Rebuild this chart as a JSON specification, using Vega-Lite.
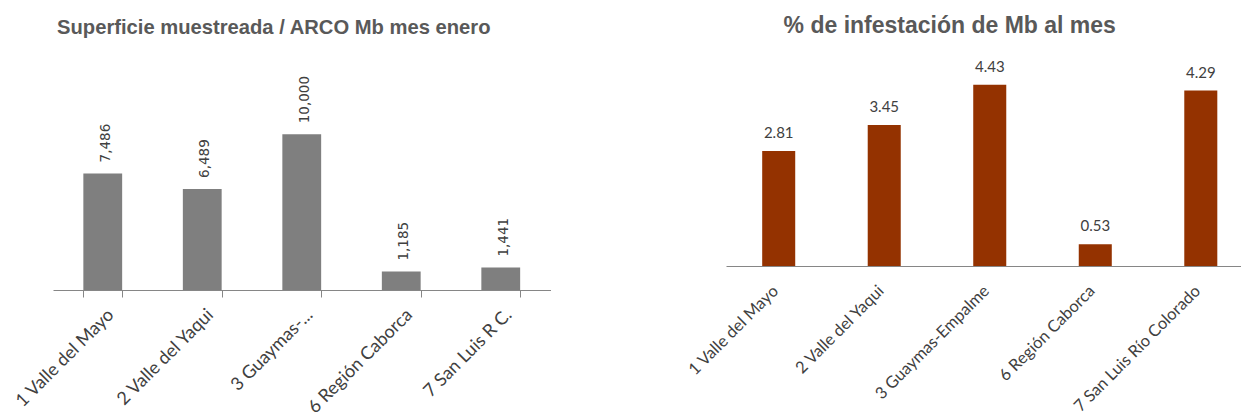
{
  "$schema": "https://vega.github.io/schema/vega-lite/v6.json",
  "background": "white",
  "autosize": {"type": "pad"},
  "padding": {"left": 12, "top": 15, "right": 0, "bottom": 0},
  "bounds": "flush",
  "spacing": 175,
  "config": {"view": {"stroke": null}, "font": "Lato"},
  "hconcat": [
    {
      "width": 497.5,
      "height": 239,
      "title": {"text": "Superficie muestreada / ARCO Mb mes enero", "font": "Liberation Sans", "fontSize": 20.2, "fontWeight": "bold", "color": "#595959", "dx": -28, "offset": 13},
      "data": {"values": [
        {"region": "1 Valle del Mayo", "value": 7486},
        {"region": "2 Valle del Yaqui", "value": 6489},
        {"region": "3 Guaymas-...", "value": 10000},
        {"region": "6 Región Caborca", "value": 1185},
        {"region": "7 San Luis R C.", "value": 1441}
      ]},
      "encoding": {
        "x": {"field": "region", "type": "nominal", "sort": null, "title": null,
          "scale": {"paddingInner": 0.61, "paddingOuter": 0.305},
          "axis": {"labelAngle": -45, "labelAlign": "right", "labelBaseline": "middle", "labelFont": "Lato", "labelFontSize": 18, "labelColor": "#404040", "labelPadding": 15, "labelOffset": 8, "domainColor": "#868686", "tickColor": "#868686", "tickSize": 7, "tickBand": "extent", "labelLimit": 300}},
        "y": {"field": "value", "type": "quantitative", "scale": {"domain": [0, 15344]}, "axis": null}
      },
      "layer": [
        {"mark": {"type": "bar", "color": "#7f7f7f"}},
        {"mark": {"type": "text", "angle": 270, "align": "left", "baseline": "middle", "dx": 11, "dy": 3, "font": "DejaVu Sans", "fontSize": 13.5, "color": "#404040"},
         "encoding": {"text": {"field": "value", "type": "quantitative", "format": ","}}}
      ]
    },
    {
      "width": 527.5,
      "height": 215,
      "title": {"text": "% de infestación de Mb al mes", "font": "Liberation Sans", "fontSize": 23, "fontWeight": "bold", "color": "#595959", "dx": -40, "offset": 13},
      "data": {"values": [
        {"region": "1 Valle del Mayo", "value": 2.81},
        {"region": "2 Valle del Yaqui", "value": 3.45},
        {"region": "3 Guaymas-Empalme", "value": 4.43},
        {"region": "6 Región Caborca", "value": 0.53},
        {"region": "7 San Luis Río Colorado", "value": 4.29}
      ]},
      "encoding": {
        "x": {"field": "region", "type": "nominal", "sort": null, "title": null,
          "scale": {"paddingInner": 0.687, "paddingOuter": 0.343},
          "axis": {"labelAngle": -45, "labelAlign": "right", "labelBaseline": "middle", "labelFont": "Lato", "labelFontSize": 16.5, "labelColor": "#404040", "labelPadding": 22, "labelOffset": -3, "domainColor": "#868686", "ticks": false, "labelLimit": 300}},
        "y": {"field": "value", "type": "quantitative", "scale": {"domain": [0, 5.257]}, "axis": null}
      },
      "layer": [
        {"mark": {"type": "bar", "color": "#943200"}},
        {"mark": {"type": "text", "align": "center", "baseline": "bottom", "dy": -10, "font": "Lato", "fontSize": 15, "color": "#404040"},
         "encoding": {"text": {"field": "value", "type": "quantitative", "format": ".2f"}}}
      ]
    }
  ]
}
